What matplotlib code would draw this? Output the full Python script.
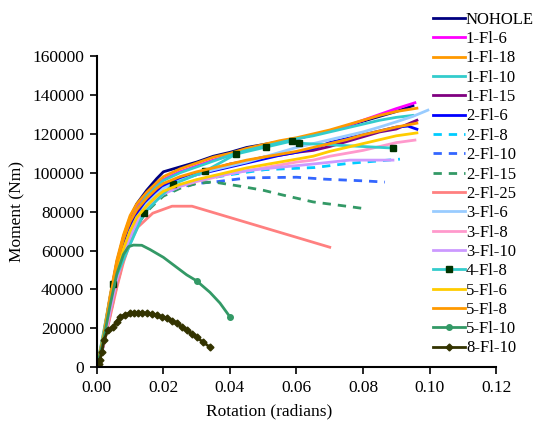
import matplotlib
matplotlib.use("Agg")
import matplotlib.pyplot as plt

plt.rcParams['font.family'] = ['Liberation Serif', 'DejaVu Serif']

# moment-rotation curves, rotation in radians, moment in Nm
x_grid = [0, 0.002, 0.004, 0.006, 0.008, 0.010, 0.012, 0.015, 0.018, 0.020,
          0.025, 0.030, 0.035, 0.040, 0.045, 0.050, 0.055, 0.060, 0.065,
          0.070, 0.075, 0.080, 0.085, 0.090]

nohole_x = x_grid + [0.095]
nohole_y = [0, 16000, 36000, 54000, 67000, 77000, 84000, 91000, 97000, 100500,
            103000, 105500, 108500, 110500, 113000, 114500, 116000, 117500,
            119500, 121500, 124000, 126500, 129000, 131500, 134500]

fl1_6_x = x_grid + [0.0956]
fl1_6_y = [0, 15000, 35000, 52000, 65000, 75000, 82000, 89000, 94000, 96500,
           100500, 103500, 106500, 109000, 111500, 113500, 115500, 117500,
           119500, 121500, 124000, 127000, 130000, 133000, 136000]

fl1_18_x = x_grid + [0.0962]
fl1_18_y = [0, 17000, 37000, 55000, 68000, 78000, 84000, 90000, 95000, 98000,
            102000, 105000, 108000, 110000, 112500, 114500, 116500, 118000,
            120000, 122000, 124500, 127000, 129500, 131500, 133200]

fl1_10_x = x_grid + [0.095]
fl1_10_y = [0, 15000, 34000, 51000, 64000, 74000, 81000, 88000, 93000, 96000,
            100000, 103000, 106000, 109000, 111500, 113500, 115500, 117500,
            119000, 121000, 123000, 125000, 127000, 128500, 129500]

fl1_15_x = x_grid + [0.0962]
fl1_15_y = [0, 14000, 33000, 50000, 62000, 72000, 79000, 86000, 91000, 93500,
            97000, 99500, 102000, 104500, 106000, 108000, 109000, 110500,
            111500, 113500, 116000, 118500, 121000, 122500, 127000]

fl2_6_x = x_grid + [0.0935, 0.0962]
fl2_6_y = [0, 13000, 31000, 48000, 61000, 71000, 78000, 85000, 90000, 93000,
           96500, 99000, 101000, 103000, 105000, 107000, 109000, 110500,
           112500, 115500, 117500, 119500, 121500, 123500, 124000, 122400]

fl2_8_x = [0, 0.002, 0.004, 0.006, 0.008, 0.010, 0.012, 0.015, 0.018, 0.020,
           0.025, 0.030, 0.035, 0.040, 0.046, 0.0505, 0.0656, 0.0755, 0.0911]
fl2_8_y = [0, 12000, 29000, 45000, 57000, 67000, 74000, 81000, 86000, 88500,
           92500, 95500, 97500, 99000, 100500, 101600, 102700, 104800, 107000]

fl2_10_x = [0, 0.002, 0.004, 0.006, 0.008, 0.010, 0.012, 0.015, 0.018, 0.020,
            0.025, 0.030, 0.0355, 0.0454, 0.060, 0.0686, 0.0806, 0.0866]
fl2_10_y = [0, 11000, 27000, 42000, 55000, 65000, 72000, 81000, 87000, 89500,
            92500, 94500, 95300, 97400, 97700, 96700, 95800, 95200]

fl2_15_x = [0, 0.002, 0.004, 0.006, 0.008, 0.010, 0.012, 0.015, 0.018, 0.020,
            0.025, 0.030, 0.0349, 0.043, 0.050, 0.056, 0.065, 0.075, 0.0815]
fl2_15_y = [0, 12000, 28000, 44000, 56000, 66000, 73000, 80000, 85000, 88000,
            92000, 94500, 95300, 93100, 91000, 88500, 85000, 82800, 81300]

fl2_25_x = [0, 0.002, 0.004, 0.006, 0.008, 0.010, 0.0123, 0.0168, 0.0226,
            0.0286, 0.070]
fl2_25_y = [0, 11000, 26000, 41000, 54000, 64000, 72000, 79200, 82800,
            82800, 61700]

fl3_6_x = x_grid + [0.095, 0.0995]
fl3_6_y = [0, 13000, 31000, 48000, 60000, 70000, 77000, 84000, 89000, 92000,
           96000, 99000, 101500, 103500, 105500, 108000, 110500, 113000,
           115000, 117000, 119000, 121000, 123500, 126200, 129000, 132200]

fl3_8_x = x_grid + [0.0956]
fl3_8_y = [0, 12000, 30000, 46000, 58000, 68000, 75000, 82000, 87000, 89500,
           93000, 95500, 97500, 99500, 101000, 102500, 104000, 105500,
           106500, 108500, 110000, 111500, 113500, 115500, 116800]

fl3_10_x = [0, 0.002, 0.004, 0.006, 0.008, 0.010, 0.012, 0.015, 0.018, 0.020,
            0.025, 0.030, 0.035, 0.040, 0.045, 0.050, 0.056, 0.065, 0.076,
            0.089]
fl3_10_y = [0, 12000, 29000, 45000, 57000, 67000, 74000, 81000, 86000, 89000,
            93000, 96000, 98000, 99500, 101000, 102000, 103000, 104500,
            106500, 106500]

fl4_8_x = [0, 0.0048, 0.0141, 0.0229, 0.0325, 0.0418, 0.0508, 0.0586, 0.0608,
           0.0890]
fl4_8_y = [0, 42700, 79200, 94100, 100800, 109600, 113200, 116300, 115200,
           112700]

fl5_6_x = x_grid + [0.0962]
fl5_6_y = [0, 14000, 33000, 49000, 61000, 70000, 77000, 83000, 88000, 90500,
           94000, 96500, 98500, 100500, 102500, 104000, 105500, 107000,
           108500, 111000, 113000, 115000, 117000, 119000, 120500]

fl5_8_x = x_grid + [0.0962]
fl5_8_y = [0, 16000, 36000, 53000, 66000, 75000, 81000, 87000, 92000, 94500,
           98000, 100500, 102500, 104500, 106500, 108000, 109500, 111000,
           113000, 115000, 117000, 119500, 121500, 123500, 125500]

fl5_10_x = [0, 0.002, 0.004, 0.006, 0.008, 0.0095, 0.011, 0.0135, 0.016,
            0.020, 0.0235, 0.027, 0.030, 0.034, 0.037, 0.040]
fl5_10_y = [0, 14000, 32000, 48000, 58000, 62000, 62800, 62700, 60500,
            56500, 52000, 47500, 44400, 38500, 33000, 25900]

fl8_10_x = [0, 0.0005, 0.0009, 0.0015, 0.0022, 0.0033, 0.0048, 0.006, 0.0069,
            0.0085, 0.0099, 0.0112, 0.0123, 0.0137, 0.015, 0.0165, 0.018,
            0.0195, 0.021, 0.0225, 0.024, 0.0255, 0.027, 0.0285, 0.030,
            0.032, 0.034]
fl8_10_y = [0, 1500, 3600, 8000, 14000, 19000, 20600, 23500, 25700, 27000,
            27800, 28000, 27800, 27900, 27800, 27300, 26700, 26000, 25200,
            24000, 22600, 20800, 19000, 17200, 15400, 12800, 10300]

series = [
    ("NOHOLE", nohole_x, nohole_y, "#000080", "-", None),
    ("1-Fl-6", fl1_6_x, fl1_6_y, "#FF00FF", "-", None),
    ("1-Fl-18", fl1_18_x, fl1_18_y, "#FF9900", "-", None),
    ("1-Fl-10", fl1_10_x, fl1_10_y, "#33CCCC", "-", None),
    ("1-Fl-15", fl1_15_x, fl1_15_y, "#800080", "-", None),
    ("2-Fl-6", fl2_6_x, fl2_6_y, "#0000FF", "-", None),
    ("2-Fl-8", fl2_8_x, fl2_8_y, "#00CCFF", "--", None),
    ("2-Fl-10", fl2_10_x, fl2_10_y, "#3366FF", "--", None),
    ("2-Fl-15", fl2_15_x, fl2_15_y, "#339966", "--", None),
    ("2-Fl-25", fl2_25_x, fl2_25_y, "#FF8080", "-", None),
    ("3-Fl-6", fl3_6_x, fl3_6_y, "#99CCFF", "-", None),
    ("3-Fl-8", fl3_8_x, fl3_8_y, "#FF99CC", "-", None),
    ("3-Fl-10", fl3_10_x, fl3_10_y, "#CC99FF", "-", None),
    ("4-Fl-8", fl4_8_x, fl4_8_y, "#33CCCC", "-", "s"),
    ("5-Fl-6", fl5_6_x, fl5_6_y, "#FFCC00", "-", None),
    ("5-Fl-8", fl5_8_x, fl5_8_y, "#FF9900", "-", None),
    ("5-Fl-10", fl5_10_x, fl5_10_y, "#339966", "-", "o"),
    ("8-Fl-10", fl8_10_x, fl8_10_y, "#333300", "-", "D"),
]

fig = plt.figure(figsize=(5.41, 4.25), dpi=100)
ax = fig.add_axes([0.179, 0.136, 0.738, 0.732])

for name, xs, ys, color, ls, marker in series:
    kw = dict(color=color, linestyle=ls, linewidth=2.0, label=name)
    if ls == "--":
        kw["dashes"] = (3, 2.5)
    if marker == "s":
        kw.update(marker="s", markersize=5, markerfacecolor="#003300",
                  markeredgecolor="#003300")
    elif marker == "o":
        kw.update(marker="o", markersize=4, markerfacecolor=color,
                  markeredgecolor=color, markevery=[12, 15])
    elif marker == "D":
        kw.update(marker="D", markersize=3.5, markerfacecolor=color,
                  markeredgecolor=color)
    ax.plot(xs, ys, **kw)

ax.set_xlim(0, 0.12)
ax.set_ylim(0, 160000)
ax.set_xticks([0, 0.02, 0.04, 0.06, 0.08, 0.10, 0.12])
ax.set_xticklabels(["0.00", "0.02", "0.04", "0.06", "0.08", "0.10", "0.12"])
ax.set_yticks(range(0, 160001, 20000))
ax.tick_params(labelsize=12.5, length=5, width=1.2, direction="out", pad=4)
for side in ("top", "right"):
    ax.spines[side].set_visible(False)
for side in ("left", "bottom"):
    ax.spines[side].set_linewidth(1.5)

ax.set_xlabel("Rotation (radians)", fontsize=12.5)
ax.set_ylabel("Moment (Nm)", fontsize=12.5)
ax.xaxis.set_label_coords(0.431, -0.115)
ax.yaxis.set_label_coords(-0.18, 0.5)

fig.legend(loc="upper left", bbox_to_anchor=(0.795, 0.98), frameon=False,
           fontsize=12, handlelength=1.9, handletextpad=0.05,
           labelspacing=0.2, borderaxespad=0.0, borderpad=0.2)

fig.savefig("out.png", dpi=100)
